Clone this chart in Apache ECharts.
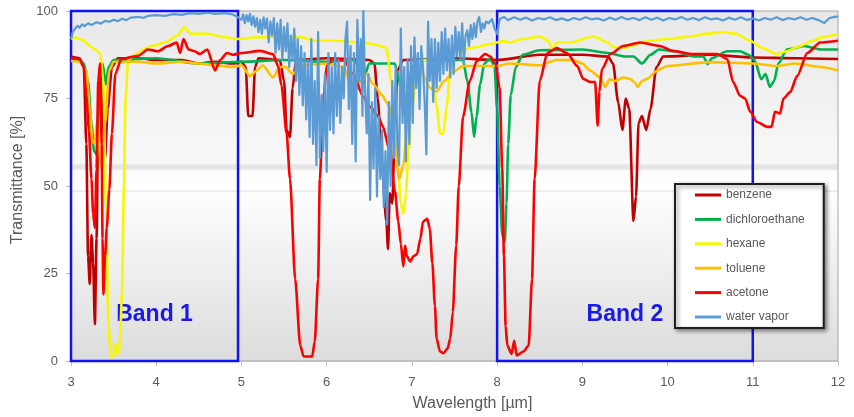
<!DOCTYPE html>
<html>
<head>
<meta charset="utf-8">
<script src="https://cdn.jsdelivr.net/npm/echarts@6/dist/echarts.min.js"></script>
<style>
  html, body { margin: 0; padding: 0; background: #ffffff; }
  #chart { width: 854px; height: 417px; }
</style>
</head>
<body>
<div id="chart"></div>
<script>
// Transmittance spectra, [wavelength µm, transmittance %]
const benzene = [
  [3.0,87],[3.1,86.5],[3.15,84],[3.18,62],[3.2,30],[3.22,22],[3.24,36],[3.26,28],[3.28,10.5],[3.3,35],
  [3.32,72],[3.34,84],[3.37,70],[3.4,58],[3.43,72],[3.48,84],[3.55,86.5],[3.8,86.5],[4.0,86],[4.3,86],
  [4.5,85],[4.7,85.5],[4.9,85],[5.0,85.5],[5.05,84],[5.08,70],[5.13,70],[5.16,84],[5.2,86.5],[5.45,86],
  [5.5,80],[5.53,66],[5.57,64],[5.6,78],[5.64,86],[6.0,86.5],[6.5,86],[6.56,85],[6.6,75],[6.65,55],
  [6.7,40],[6.72,32],[6.74,48],[6.77,45],[6.8,66],[6.83,83],[6.9,86],[7.5,86.5],[8.0,86],[8.5,87.5],
  [9.0,87.5],[9.3,87],[9.36,85],[9.42,74],[9.47,66],[9.51,75],[9.55,72],[9.6,40],[9.63,47],[9.66,68],
  [9.7,70],[9.75,66],[9.8,72],[9.87,84],[9.95,87],[10.5,87.5],[11.0,86.7],[11.5,86.5],[12.0,86.3]
];
const dichloroethane = [
  [3.0,86],[3.1,86],[3.15,85],[3.2,80],[3.24,68],[3.27,60],[3.3,59],[3.32,70],[3.35,83],[3.37,85],
  [3.41,79],[3.44,84],[3.5,86],[4.0,86.5],[4.5,85],[5.0,85.5],[5.5,86],[6.0,85.5],[6.3,86],[6.4,84],
  [6.45,82],[6.5,85],[6.8,85],[6.85,80],[6.9,72],[6.95,76],[7.0,84],[7.1,86],[7.6,86],[7.65,80],
  [7.7,71],[7.73,64],[7.76,70],[7.8,79],[7.85,85],[7.92,86.5],[7.97,84],[8.0,72],[8.03,50],[8.06,36],
  [8.09,34],[8.11,45],[8.13,62],[8.16,76],[8.22,84],[8.3,87.5],[8.5,88.8],[9.0,89],[9.3,88],[9.5,87],
  [9.6,87],[9.7,85],[9.8,87.5],[9.9,89],[10.1,88.5],[10.3,87],[10.42,87],[10.47,84.8],[10.52,86.5],[10.7,88.5],
  [10.85,88.5],[10.95,87.5],[11.02,86],[11.1,80.5],[11.15,82],[11.2,78.3],[11.25,80],[11.3,85],[11.4,89],[11.6,90],
  [11.8,89],[12.0,89]
];
const hexane = [
  [3.0,92],[3.05,92.5],[3.1,92],[3.15,91.5],[3.22,90],[3.28,89],[3.34,88],[3.38,80],[3.41,45],[3.44,10],
  [3.47,1],[3.5,1.5],[3.52,5],[3.55,2],[3.57,3],[3.6,20],[3.62,50],[3.64,75],[3.67,86],[3.75,87.5],
  [3.85,89],[3.95,90],[4.1,91],[4.25,93],[4.33,95.3],[4.4,93.5],[4.6,93.5],[4.8,92.5],[4.95,92],[5.2,92.5],
  [5.5,92.8],[5.7,92.5],[5.85,91.5],[6.1,91.5],[6.4,91],[6.55,90.5],[6.7,89.5],[6.76,80],[6.8,68],[6.83,58],
  [6.87,45],[6.9,42],[6.93,48],[6.96,60],[7.0,72],[7.05,80],[7.1,86],[7.2,86],[7.25,80],[7.29,73],
  [7.33,65],[7.37,65],[7.41,73],[7.45,83],[7.5,88],[7.6,89],[7.76,89.7],[7.9,90.5],[8.07,91.4],[8.15,91],
  [8.3,92],[8.5,92.7],[8.6,91.5],[8.65,89],[8.7,91],[8.86,91],[9.13,92.7],[9.3,91],[9.36,89.7],[9.5,89.5],
  [9.56,90],[9.76,91.4],[10.0,92],[10.26,92.7],[10.45,93.5],[10.65,94],[10.8,93.5],[10.97,91.5],[11.1,89.5],[11.28,87.7],
  [11.4,88.5],[11.52,89.7],[11.7,91.5],[11.83,92.6],[12.0,93.4]
];
const toluene = [
  [3.0,85.7],[3.1,85.5],[3.18,83],[3.22,72],[3.25,63],[3.28,62],[3.3,68],[3.33,60],[3.36,55],[3.4,68],
  [3.45,83],[3.5,85.5],[3.8,85.5],[4.0,85],[4.3,85.5],[4.5,85],[4.7,84.5],[4.9,84],[5.0,84.5],[5.1,81.4],
  [5.18,83],[5.25,84.5],[5.37,81],[5.45,84],[5.52,84],[5.6,82],[5.7,84.5],[6.0,85],[6.2,84],[6.27,80],
  [6.33,77],[6.4,80],[6.47,82],[6.55,79],[6.65,76],[6.7,74],[6.75,72],[6.8,62],[6.85,52],[6.9,56],
  [6.95,70],[7.0,80],[7.1,84],[7.15,81],[7.21,78],[7.29,77],[7.38,80],[7.49,82.7],[7.6,84.3],[7.9,84.3],
  [8.0,84.3],[8.15,85],[8.5,84.5],[8.7,86],[8.89,86],[9.0,85],[9.09,83],[9.21,81],[9.27,78.3],[9.32,80.5],
  [9.38,80],[9.48,81],[9.56,80.6],[9.62,79.5],[9.65,78.3],[9.7,80],[9.76,80.6],[9.88,83],[10.0,84.3],[10.5,85.4],
  [11.0,85],[11.28,84.3],[11.5,85],[11.8,84],[12.0,83]
];
const acetone = [
  [3.0,86.5],[3.1,86.3],[3.15,84],[3.18,76],[3.21,66],[3.24,52],[3.26,42],[3.28,38],[3.3,55],[3.32,80],
  [3.34,85],[3.36,62],[3.37,35],[3.38,19],[3.4,30],[3.42,38],[3.45,49],[3.48,65],[3.52,82],[3.59,86.3],
  [3.79,87.2],[3.9,89],[4.02,88.5],[4.14,90],[4.24,91],[4.28,88],[4.32,92],[4.38,89],[4.45,88.5],[4.51,87.7],
  [4.6,89],[4.69,83],[4.75,86],[4.83,88],[4.9,87.5],[5.0,88],[5.22,88.6],[5.37,87.7],[5.43,84.3],[5.47,78.6],
  [5.53,65],[5.57,52],[5.63,23.5],[5.69,4.4],[5.73,1.3],[5.83,1.3],[5.86,5.5],[5.9,23.5],[5.92,52],[5.95,66],
  [5.97,77],[6.0,84.3],[6.07,86.3],[6.2,86],[6.31,82],[6.43,75.5],[6.51,72.6],[6.6,70],[6.66,67],[6.74,60],
  [6.8,48.6],[6.84,40],[6.87,33.5],[6.9,27],[6.92,33],[6.94,30],[6.98,28.4],[7.02,30],[7.06,30.5],[7.1,35],
  [7.13,39.8],[7.18,40.6],[7.21,37.8],[7.24,28],[7.27,15.8],[7.29,6.4],[7.33,2.7],[7.37,2.2],[7.42,3.6],[7.45,6.4],
  [7.48,14],[7.52,33],[7.55,50],[7.6,69.8],[7.68,80],[7.76,85.7],[7.86,87.7],[7.92,87],[7.98,85],[8.03,78],
  [8.06,55],[8.08,30],[8.1,10],[8.12,4.4],[8.17,2],[8.2,5.8],[8.23,1.6],[8.31,2.7],[8.37,4.4],[8.41,23.5],
  [8.44,52],[8.5,80],[8.59,88],[8.7,89.4],[8.82,88],[8.94,84.3],[9.01,80.6],[9.09,79.7],[9.15,79.7],[9.18,67.2],
  [9.2,76.9],[9.23,83.4],[9.33,87.7],[9.48,90],[9.68,91],[9.91,90],[10.06,88.6],[10.3,87.7],[10.58,87.7],[10.7,86.3],
  [10.77,79.7],[10.85,75.8],[10.91,75],[10.97,71.2],[11.05,68.3],[11.17,66.9],[11.22,66.9],[11.26,71.2],[11.32,70.7],[11.36,75],
  [11.44,76.9],[11.52,81.4],[11.64,88],[11.79,91],[12.0,91.5]
];
const waterVapor = [
  [3.0,92],[3.02,94],[3.05,95],[3.08,95.8],[3.1,95.2],[3.13,96.2],[3.16,95.7],[3.2,96.5],[3.24,96],[3.3,96.8],
  [3.35,96.4],[3.4,97.2],[3.45,96.9],[3.5,97.5],[3.55,97.1],[3.6,97.8],[3.65,97.4],[3.7,98.1],[3.8,98.3],[3.85,98],
  [3.9,98.6],[4.0,98.8],[4.1,98.6],[4.2,99.1],[4.3,98.9],[4.4,99.4],[4.5,99.2],[4.6,99.5],[4.7,99.2],[4.8,99.4],
  [4.9,99],[4.96,98.2],
  [5.00,97.5],[5.02,99],[5.04,96.5],[5.06,98.8],[5.08,97],[5.10,99.2],[5.12,96],[5.14,98.5],[5.16,95.5],[5.18,98],
  [5.20,94],[5.22,97.5],[5.24,93.5],[5.26,98.2],[5.28,95],[5.30,97.8],[5.32,91],[5.34,97],[5.36,93],[5.38,98],
  [5.40,88],[5.42,96.5],[5.44,89],[5.46,97.5],[5.48,86],[5.50,95.5],[5.52,88.5],[5.54,96.5],[5.56,84],[5.58,93],
  [5.60,86],[5.62,95],[5.64,80],[5.66,92],[5.68,76],[5.70,90],[5.72,73],[5.74,88],[5.76,69],[5.78,86],
  [5.80,64],[5.82,92],[5.84,62],[5.86,80],[5.88,56],[5.90,94],[5.92,58],[5.94,76],[5.96,60],[5.98,82],
  [6.00,54],[6.02,88],[6.04,66],[6.06,84],[6.08,65],[6.10,88],[6.12,70],[6.14,86],[6.16,68],[6.18,84],
  [6.20,75],[6.22,92],[6.24,97],[6.26,72],[6.28,90],[6.30,62],[6.32,88],[6.34,57],[6.36,97.5],[6.38,80],
  [6.40,92],[6.42,70],[6.43,100],[6.45,78],[6.47,65],[6.49,82],[6.51,46],[6.53,74],[6.55,55],[6.57,78],
  [6.59,47],[6.61,70],[6.63,52],[6.65,66],[6.67,44],[6.69,60],[6.71,39],[6.73,74],[6.75,50],[6.77,80],
  [6.79,58],[6.81,84],[6.83,62],[6.85,56],[6.87,95],[6.89,68],[6.91,84],[6.93,57],[6.95,86],[6.97,62],
  [6.99,90],[7.01,68],[7.03,92.5],[7.05,78],[7.07,88],[7.09,72],[7.11,90],[7.13,84],[7.15,74],[7.17,59],
  [7.19,97],[7.21,80],[7.23,92],[7.25,74],[7.27,92],[7.29,78],[7.31,91],[7.33,80],[7.35,94],[7.37,82],
  [7.39,95],[7.41,83],[7.43,92],[7.45,81],[7.47,93],[7.49,82],[7.51,95.5],[7.53,87],[7.55,94],[7.57,86],
  [7.59,96.5],[7.61,85],[7.63,93],[7.65,94.5],[7.67,90],[7.69,96],[7.71,92],[7.73,96.5],[7.75,92.5],[7.77,97],
  [7.79,98.3],[7.81,94],[7.83,96.5],[7.85,95],[7.87,97],[7.9,96.5],[7.94,97.7],[7.97,95],[8.0,93.4],
  [8.03,97.7],[8.08,98.3],[8.13,97.4],[8.2,98.2],[8.27,97.5],[8.34,98.1],[8.41,97.3],[8.48,98.0],[8.55,97.6],
  [8.62,98.2],[8.69,97.4],[8.76,97.9],[8.83,97.3],[8.9,98.0],[8.97,97.5],[9.04,98.2],[9.11,97.6],[9.18,97.9],[9.25,97.3],
  [9.32,98.1],[9.39,97.5],[9.46,98.3],[9.53,97.6],[9.6,98.0],[9.67,97.4],[9.74,98.2],[9.81,97.5],[9.88,98.1],[9.95,97.3],
  [10.02,98.0],[10.09,97.6],[10.16,98.3],[10.23,97.5],[10.3,98.0],[10.37,97.4],[10.44,98.2],[10.51,97.6],[10.58,97.9],[10.65,97.3],
  [10.72,98.1],[10.79,97.5],[10.86,98.2],[10.93,97.4],[11.0,97.9],[11.07,97.3],[11.14,98.0],[11.21,97.5],[11.28,98.2],[11.35,97.4],
  [11.42,98.0],[11.49,97.6],[11.56,98.2],[11.63,97.5],[11.7,98.0],[11.77,97.4],[11.84,96.6],[11.9,98.0],[11.96,98.3],[12.0,98.4]
];

const seriesNames = ['benzene', 'dichloroethane', 'hexane', 'toluene', 'acetone', 'water vapor'];
const seriesData = [benzene, dichloroethane, hexane, toluene, acetone, waterVapor];
const seriesColors = ['#c00000', '#00b050', '#f7f700', '#ffc000', '#ff0000', '#5b9bd5'];

// Detector bands: [name, from µm, to µm]
const bandNames = ['Band 1', 'Band 2'];
const bandRanges = [[3.0, 4.96], [8.0, 11.0]];

const xTicks = { min: 3, max: 12, interval: 1 };
const yTicks = { min: 0, max: 100, interval: 25 };

const chart = echarts.init(document.getElementById('chart'), null, { renderer: 'canvas' });

const textGray = '#595959';
const axisGray = '#bfbfbf';

const lineSeries = seriesNames.map((name, i) => ({
  name: name,
  type: 'line',
  data: seriesData[i],
  showSymbol: false,
  smooth: name === 'water vapor' ? false : 0.25,
  smoothMonotone: 'x',
  lineStyle: { color: seriesColors[i], width: name === 'water vapor' ? 2.2 : 2.6, join: 'round' },
  itemStyle: { color: seriesColors[i] },
  z: 3 + i
}));

const bandSeries = {
  name: 'bands',
  type: 'line',
  data: [],
  clip: false,
  silent: true,
  z: 20,
  markArea: {
    silent: true,
    itemStyle: { color: 'rgba(0,0,0,0)', borderColor: '#1212f2', borderWidth: 2.5 },
    label: {
      show: true,
      position: 'insideBottom',
      distance: 36,
      fontFamily: 'Liberation Sans',
      fontSize: 23,
      fontWeight: 'bold',
      color: '#1a1ae8'
    },
    data: bandNames.map((n, i) => [
      { name: n, xAxis: bandRanges[i][0], yAxis: yTicks.min },
      { xAxis: bandRanges[i][1], yAxis: yTicks.max }
    ])
  }
};

chart.setOption({
  animation: false,
  backgroundColor: '#ffffff',
  grid: {
    left: 71, right: 16, top: 11, bottom: 55,
    show: true,
    borderColor: '#a6a6a6',
    borderWidth: 1,
    backgroundColor: {
      type: 'linear', x: 0, y: 0, x2: 0, y2: 1,
      colorStops: [
        { offset: 0, color: '#e8e8e8' },
        { offset: 0.437, color: '#f8f8f8' },
        { offset: 0.44, color: '#e4e4e4' },
        { offset: 0.452, color: '#e7e7e7' },
        { offset: 0.456, color: '#fcfcfc' },
        { offset: 0.512, color: '#ffffff' },
        { offset: 0.514, color: '#dedede' },
        { offset: 0.518, color: '#fefefe' },
        { offset: 1, color: '#dcdcdc' }
      ]
    }
  },
  legend: {
    data: seriesNames,
    orient: 'vertical',
    left: 675,
    top: 184,
    icon: 'rect',
    itemWidth: 26,
    itemHeight: 3,
    itemGap: 10.4,
    padding: [4, 19, 4, 20],
    backgroundColor: '#ffffff',
    borderColor: '#1e1e1e',
    borderWidth: 2,
    shadowColor: 'rgba(0,0,0,0.45)',
    shadowBlur: 4,
    shadowOffsetX: 2,
    shadowOffsetY: 2,
    textStyle: { fontFamily: 'Liberation Sans', fontSize: 12, color: textGray, lineHeight: 14 }
  },
  xAxis: {
    type: 'value',
    min: xTicks.min, max: xTicks.max, interval: xTicks.interval,
    name: 'Wavelength [µm]',
    nameLocation: 'middle',
    nameGap: 35,
    nameTextStyle: { fontFamily: 'Liberation Sans', fontSize: 16, color: textGray, padding: [0, 0, 0, 36] },
    axisLine: { show: true, lineStyle: { color: axisGray, width: 1 } },
    axisTick: { show: true, length: 5, lineStyle: { color: axisGray } },
    axisLabel: { fontFamily: 'Liberation Sans', fontSize: 13, color: textGray, margin: 15 },
    splitLine: { show: false }
  },
  yAxis: {
    type: 'value',
    min: yTicks.min, max: yTicks.max, interval: yTicks.interval,
    name: 'Transmittance [%]',
    nameLocation: 'middle',
    nameGap: 38,
    nameTextStyle: { fontFamily: 'Liberation Sans', fontSize: 16, color: textGray, padding: [0, 0, 0, 12] },
    axisLine: { show: true, lineStyle: { color: axisGray, width: 1 } },
    axisTick: { show: true, length: 5, lineStyle: { color: axisGray } },
    axisLabel: { fontFamily: 'Liberation Sans', fontSize: 13, color: textGray, margin: 13 },
    splitLine: { show: false }
  },
  series: lineSeries.concat([bandSeries])
});
</script>
</body>
</html>
